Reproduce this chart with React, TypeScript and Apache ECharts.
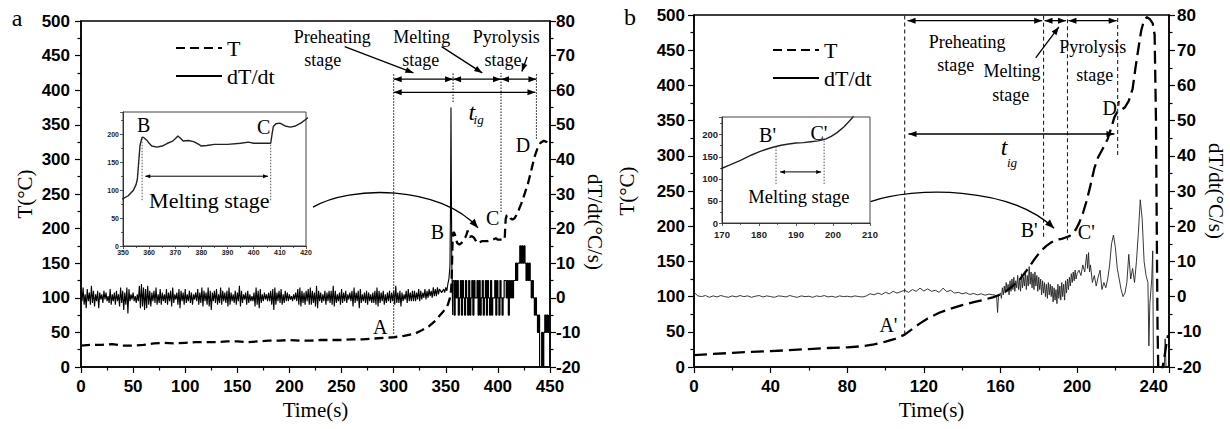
import React, { useEffect, useRef } from "react";
import * as echarts from "echarts";

const SANS = "'Liberation Sans', Arial, sans-serif";
const SERIF = "'Liberation Serif', 'Times New Roman', serif";

// ---------------- Panel a data ----------------
// Temperature T (°C) vs time (s)
const tempA: [number, number][] = [
  [0, 31], [10, 32], [20, 32], [30, 33], [40, 31], [50, 31], [60, 32], [70, 34], [80, 35], [90, 34],
  [100, 35], [110, 36], [120, 36], [130, 36], [140, 37], [150, 37], [160, 36], [170, 37], [180, 38], [190, 38],
  [200, 39], [210, 38], [220, 38], [230, 39], [240, 39], [250, 39], [260, 40], [270, 40], [280, 41], [290, 42],
  [300, 43], [310, 45], [320, 48], [327, 53], [334, 59], [340, 67], [344, 74], [347, 79], [350, 85], [352, 90],
  [354, 100], [355, 110], [355.5, 120], [356, 150], [356.5, 180], [357.3, 195], [358, 194], [359, 190], [360, 184],
  [361, 179], [363, 177], [365, 179], [367, 184], [369, 188], [370, 192], [371, 197], [372, 193], [373, 188],
  [375, 189], [377, 187], [379, 182], [380, 179], [382, 180], [385, 182], [390, 182], [395, 184], [398, 186],
  [400, 184], [403, 184], [406.5, 184], [407, 200], [407.5, 214], [408.5, 219], [410, 220], [412, 215], [414, 213],
  [416, 215], [418, 220], [420, 227], [423, 238], [426, 252], [429, 266], [432, 284], [435, 303], [438, 316],
  [441, 324], [444, 327], [447, 325], [449, 322],
];
// dT/dt (°C/s): noisy part, one value per second from 0 s
const rateAStart = 0;
const rateAStep = 1;
const rateANoise: number[] = [
  2, -1, 3, -2, 1, -3, 2.5, -1, 1.5, -2, 3.5, -1.5, 2, -2.5, 1, -1, 2, -3, 1.5, -0.5,
  1, -1.5, 2, -0.5, 1.5, -1, 0.5, -1.5, 2.5, -2, 1, -1, 1.5, -2, 2, -1, 1, -2.5, 3, -1.5,
  2, -3.5, 1.5, -2, 3, -4.5, 2.5, -1, 1, -0.5, 1.5, -1, 0.5, -1.5, 1, -1, 3.5, -3, 4, -2.5,
  3, -3.5, 2.5, -3, 3.5, -2, 2, -2.5, 1.5, -1, 2, -1.5, 3, -2, 1, -1.5, 2.5, -2, 1.5, -1,
  1, -1.5, 2.5, -2, 1.5, -1, 2, -2.5, 3, -1.5, 1, -0.5, 1.5, -2, 2.5, -3, 2, -1, 1.5, -2,
  2.5, -1.5, 1, -1, 2, -1.5, 1.5, -2, 1, -0.5, 1.5, -1, 2.5, -2, 1.5, -1.5, 3, -2.5, 2, -1,
  1.5, -2, 3, -2.5, 2, -3.5, 1.5, -1, 2, -1.5, 2.5, -2, 1, -1.5, 3, -2, 2, -1, 1.5, -1.5,
  2, -2.5, 3, -2, 1.5, -1, 1, -1.5, 2, -2, 1.5, -1, 3.5, -2.5, 2, -1.5, 1, -0.5, 1.5, -2,
  2, -1.5, 1, -1, 0.5, -1, 1.5, -2.5, 3, -2, 2, -3, 2.5, -1.5, 1, -1, 1.5, -0.5, 1, -1,
  1.5, -1, 2, -2, 2.5, -3.5, 3, -2, 1.5, -1, 2, -1.5, 2.5, -2, 1, -1.5, 2, -1, 1.5, -1,
  1, -0.5, 0.5, -1, 1, -0.5, 1.5, -1, 2.5, -2, 3, -2.5, 2, -1.5, 1.5, -2, 2, -1, 2.5, -2,
  3, -2, 2, -1.5, 1.5, -2.5, 3.5, -3, 2, -1, 1.5, -1.5, 1, -1, 2, -2, 1.5, -1, 2, -1.5,
  2, -2, 3.5, -2.5, 2, -1.5, 1, -1, 1.5, -2, 2.5, -1.5, 1.5, -1, 2, -1.5, 1, -0.5, 1.5, -1,
  2, -2.5, 3, -1.5, 1.5, -1, 2, -3, 2.5, -1.5, 1, -1, 1.5, -1.5, 2, -2, 1.5, -1, 1, -1.5,
  1.5, -1.5, 2, -2, 3, -2.5, 2, -1.5, 1.5, -1, 2, -2, 1, -1.5, 1.5, -1, 2, -1.5, 1.5, -1,
  2, -2, 3.5, -1.5, 1.5, -1.5, 2, -2.5, 1.5, -1, 1, -0.5, 2, -1.5, 2.5, -1, 1.5, -1, 2, -1,
  2, -1, 1.5, -0.5, 2.5, -1, 2, -0.5, 1.5, 0, 2.5, -0.5, 2, 0, 2.5, 0.5, 2, 0, 3, 0.5,
  2.5, 0.5, 3, 1, 2.5,
];
// dT/dt around the ignition spike
const rateASpike: [number, number][] = [
  [346, 1.5], [348, 2.5], [349, 1.5], [350, 3], [351, 2], [352, 4], [353, 5.5], [354, 9], [354.5, 25],
  [355, 55], [355.4, 30], [355.8, 10], [356.2, 3], [356.6, -5], [357, 5],
];
// dT/dt quantised steps, one value per second from 357 s
const rateAStepStart = 357;
const rateASteps: number[] = [
  5, -5, 5, 0, 5, -5, 0, 5, -5, 5,
  0, -5, 5, 0, -5, 5, -5, 0, 5, -5,
  5, 0, 0, 5, -5, 5, -5, 0, 5, -5,
  0, 5, -5, 5, 0, -5, 5, -5, 0, 0,
  5, -5, 5, 0, -5, 5, 0, -5, 0, 5,
  5, 0, 5, -5, 5, 0, 5, 0, 5, 5,
  10, 5, 10, 10, 15, 10, 15, 10, 15, 10,
  5, 10, 5, 10, 5, 0, 5, 0, -5, 0,
  -5, -10, -5, -25, -25, -10, -25, -10, -5, -10,
  -5, -10, -5,
];

// ---------------- Panel b data ----------------
const tempB: [number, number][] = [
  [0, 17], [10, 18.5], [20, 20], [30, 21.5], [40, 22.5], [50, 24], [60, 25.5], [70, 27], [80, 28], [88, 29.5],
  [94, 32], [100, 36], [105, 40], [110, 46], [114, 54], [118, 62], [122, 69], [128, 77], [134, 83], [140, 88],
  [146, 92], [152, 96], [156, 99], [160, 103], [163, 108], [166, 114], [168, 119], [170, 124], [172, 131],
  [175, 142], [178, 154], [180, 161], [182, 167], [184, 172], [186, 176], [188, 179], [190, 181], [192, 182],
  [194, 184], [196, 186], [198, 190], [199.5, 196], [201, 204], [203, 218], [205, 236], [207, 258], [209, 282],
  [211, 298], [214, 313], [216, 324], [218, 341], [219.5, 355], [221, 362], [223, 365], [225, 369], [227, 378],
  [229, 395], [230.5, 425], [232, 452], [233.5, 478], [235, 493], [236.5, 497], [238, 494], [239.5, 488],
  [240.5, 472], [241.2, 350], [241.6, 200], [242, 60], [242.4, -5], [244, -10], [245.5, 12], [246.5, 30], [247.5, 45],
];
const rateBStart = 0;
const rateBStep = 2;
const rateBBase: number[] = [
  1.2, 0.2, 0, 0.3, -0.2, 0.2, -0.1, 0.3, 0, -0.2,
  0.2, -0.1, 0.3, 0, 0.2, -0.2, 0.1, 0.3, -0.1, 0.2,
  0, -0.2, 0.2, 0.1, -0.1, 0.3, 0, -0.2, 0.2, 0,
  0.1, -0.2, 0.2, 0, 0.3, -0.1, 0.1, -0.2, 0.2, 0,
  0.1, -0.1, 0.2, 0, -0.1, 0.2, 0.8, 0.5, 1, 0.6,
  1.2, 0.8, 1.5, 1, 1.4, 1.8, 1.2, 2, 1.5, 2.4,
  1.6, 2.2, 1.5, 1.8, 1.2, 2.4, 1.4, 1.8, 1, 1.2,
  0.8, 1.1, 0.6, 0.9, 0.5, 0.8, 0.4, 0.7, 0.5,
];
const rateBTail: [number, number][] = [
  [157, 0.5], [158, 0], [158.5, -4.5], [159, 0.5], [160, 1], [160.5, -0.5], [161, 2.5], [161.5, 0.5], [162, 3],
  [162.5, 1], [163, 4], [163.5, 1.5], [164, 3.5], [164.5, 0.5], [165, 4.5], [165.5, 1.5], [166, 5], [166.5, 2],
  [167, 5.5], [167.5, 1.5], [168, 4.5], [168.5, 2.5], [169, 6], [169.5, 2], [170, 5], [170.5, 1.5], [171, 6.5],
  [171.5, 2.5], [172, 5.5], [172.5, 3], [173, 7], [173.5, 2], [174, 6], [174.5, 3], [175, 8.5], [175.5, 3.5],
  [176, 7], [176.5, 2.5], [177, 6.5], [177.5, 2], [178, 7], [178.5, 3], [179, 6], [179.5, 1.5], [180, 5.5],
  [180.5, 2], [181, 5], [181.5, 0.5], [182, 4.5], [182.5, 1], [183, 4], [183.5, 0], [184, 3.5], [184.5, -0.5],
  [185, 4], [185.5, 0.5], [186, 3.5], [186.5, 0], [187, 3], [187.5, -1.5], [188, 2.5], [188.5, -1], [189, 2],
  [189.5, -2], [190, 3.5], [190.5, -0.5], [191, 3], [191.5, -1], [192, 4], [192.5, 0], [193, 3.5], [193.5, -1],
  [194, 4.5], [194.5, 1], [195, 5], [195.5, 2], [196, 5.5], [196.5, 3], [197, 6.5], [197.5, 4], [198, 7],
  [198.5, 4.5], [199, 7.5], [199.5, 5], [200, 6.5], [201, 7.5], [202, 6], [203, 9], [204, 7], [205, 12],
  [205.5, 8], [206, 12.5], [206.5, 7], [207, 9], [208, 4], [209, 6], [210, 3], [211, 5.5], [212, 7.5], [213, 2],
  [214, 4], [215, 2.5], [216, 5], [217, 9], [218, 15], [219, 17.5], [220, 14], [221, 8], [222, 5], [223, 2],
  [224, 0], [225, 1], [226, 4], [227, 12], [228, 5], [229, 8], [230, 4], [231, 10], [232, 18], [233, 27.5],
  [234, 22], [235, 10], [236, 6], [237, 4], [237.5, -14], [238, -2], [239, 5], [239.5, 13], [240, -30],
  [245, -30], [246, -12], [247, -30],
];

// ---------------- Axis ranges ----------------
const axisA = { tMin: 0, tMax: 450, tStep: 50 };
const axisB = { tMin: 0, tMax: 248, tStep: 40 };
const axisT = { min: 0, max: 500, step: 50 };
const axisRate = { min: -20, max: 80, step: 10 };
const insetAX = { min: 350, max: 420, step: 10 };
const insetBX = { min: 170, max: 210, step: 10 };
const insetY = { min: 0, max: 240, step: 50 };

// ---------------- Annotations (data coordinates) ----------------
const stageLinesA: [number, number, number][] = [[300, 48, 425], [357, 383, 425], [403, 224, 425], [437, 330, 425]];
const stageArrowsA: [number, number, number][] = [[300, 357, 416], [357, 403, 416], [403, 437, 416], [300, 436, 397]];
const stageTextA: [string, number, number][] = [
  ["Preheating", 241, 477], ["stage", 232, 444], ["Melting", 327, 477], ["stage", 326, 444],
  ["Pyrolysis", 408, 477], ["stage", 405, 444],
];
const pointersA: [number, number, number, number][] = [[253, 463, 319, 425], [346, 463, 385, 425], [428, 448, 423, 427]];
const pointLabelsA: [string, number, number][] = [["A", 287, 58], ["B", 342, 195], ["C", 395, 215], ["D", 424, 321]];
const curveA: number[][] = [[222.6, 231], [258, 263], [344.5, 263], [381, 201]];
const tigA = { t: [375, 369], sub: [381.5, 357] };
const insetLinesA: [number, number, number][] = [[357.3, 82, 195], [406.5, 82, 186]];
const insetArrowA: [number, number, number] = [358.5, 405.5, 125];
const insetLabelsA: [string, number, number][] = [["B", 357.9, 216], ["C", 403.8, 213]];
const insetTextA: [string, number, number] = ["Melting stage", 383, 82];

const stageLinesB: [number, number, number][] = [[110, 46, 500], [182.5, 185, 500], [195, 180, 500], [221.2, 301, 500]];
const stageArrowsB: [number, number, number][] = [[111.5, 181.8, 492], [183, 194.2, 492], [195.5, 220.7, 492], [112, 219.5, 331]];
const stageTextB: [string, number, number][] = [
  ["Preheating", 142.6, 462], ["stage", 136.7, 429], ["Melting", 166, 421], ["stage", 165.4, 386],
  ["Pyrolysis", 208.2, 455], ["stage", 209.2, 415],
];
const pointersB: [number, number, number, number][] = [[178.4, 439, 190.5, 483]];
const pointLabelsB: [string, number, number][] = [["A'", 101.5, 60], ["B'", 175, 195], ["C'", 204.8, 192], ["D'", 218, 368]];
const curveB: number[][] = [[92.2, 235], [115, 256], [164.5, 258], [188, 197]];
const tigB = { t: [161.9, 313], sub: [166, 290] };
const insetLinesB: [number, number, number][] = [[184.6, 88, 174], [197.6, 88, 192]];
const insetArrowB: [number, number, number] = [185.7, 196.8, 115.7];
const insetLabelsB: [string, number, number][] = [["B'", 182.3, 200], ["C'", 196.2, 204]];
const insetTextB: [string, number, number] = ["Melting stage", 190.8, 58];

function seq(start: number, step: number, values: number[]): [number, number][] {
  return values.map((v, i) => [start + i * step, v]);
}

const tick = { color: "#000", width: 1.2 };

function mainX(gridIndex: number, ax: any, nameGap: number, showMax: boolean) {
  return {
    type: "value", gridIndex, min: ax.tMin, max: ax.tMax, interval: ax.tStep,
    axisLine: { onZero: false, lineStyle: { color: "#000", width: 1.5 } },
    axisTick: { inside: false, length: 6, lineStyle: tick },
    minorTick: { show: true, splitNumber: 2, length: 3.5, lineStyle: tick },
    splitLine: { show: false },
    axisLabel: { fontFamily: SANS, fontWeight: "bold", fontSize: 17, color: "#000", margin: 11, showMaxLabel: showMax, showMinLabel: true },
    name: "Time(s)", nameLocation: "middle", nameGap,
    nameTextStyle: { fontFamily: SERIF, fontSize: 21, color: "#000" },
  };
}
function mainYLeft(gridIndex: number, nameGap: number, margin: number) {
  return {
    type: "value", gridIndex, position: "left", min: axisT.min, max: axisT.max, interval: axisT.step,
    axisLine: { onZero: false, lineStyle: { color: "#000", width: 1.5 } },
    axisTick: { inside: false, length: 6, lineStyle: tick },
    minorTick: { show: true, splitNumber: 2, length: 3.5, lineStyle: tick },
    splitLine: { show: false },
    axisLabel: { fontFamily: SANS, fontWeight: "bold", fontSize: 17, color: "#000", margin },
    name: "T(°C)", nameLocation: "middle", nameGap,
    nameTextStyle: { fontFamily: SERIF, fontSize: 21, color: "#000" },
  };
}
function mainYRight(gridIndex: number, nameGap: number, margin: number, padding: number[]) {
  return {
    type: "value", gridIndex, position: "right", min: axisRate.min, max: axisRate.max, interval: axisRate.step,
    axisLine: { onZero: false, lineStyle: { color: "#000", width: 1.5 } },
    axisTick: { inside: false, length: 6, lineStyle: tick },
    minorTick: { show: true, splitNumber: 2, length: 3.5, lineStyle: tick },
    splitLine: { show: false },
    axisLabel: { fontFamily: SANS, fontWeight: "bold", fontSize: 17, color: "#000", margin },
    name: "dT/dt(°C/s)", nameLocation: "middle", nameGap, nameRotate: -90,
    nameTextStyle: { fontFamily: SERIF, fontSize: 21, color: "#000", padding },
  };
}
function insetAxisX(gridIndex: number, ax: any, fs: number, margin: number) {
  return {
    type: "value", gridIndex, min: ax.min, max: ax.max, interval: ax.step,
    axisLine: { onZero: false, lineStyle: { color: "#333", width: 1 } },
    axisTick: { length: 3, lineStyle: { color: "#333", width: 0.8 } },
    minorTick: { show: true, splitNumber: 2, length: 2, lineStyle: { color: "#333", width: 0.8 } },
    splitLine: { show: false },
    axisLabel: { fontFamily: SANS, fontWeight: "bold", fontSize: fs, color: "#222", margin, showMaxLabel: true },
  };
}
function insetAxisY(gridIndex: number, fs: number) {
  return {
    type: "value", gridIndex, min: insetY.min, max: insetY.max, interval: insetY.step,
    axisLine: { onZero: false, lineStyle: { color: "#333", width: 1 } },
    axisTick: { length: 3, lineStyle: { color: "#333", width: 0.8 } },
    minorTick: { show: true, splitNumber: 2, length: 2, lineStyle: { color: "#333", width: 0.8 } },
    splitLine: { show: false },
    axisLabel: { fontFamily: SANS, fontWeight: "bold", fontSize: fs, color: "#222", margin: 4, showMaxLabel: false },
  };
}

function buildOption() {
  const legendText = { fontFamily: SERIF, fontSize: 22, color: "#000", lineHeight: 22 };
  const legendBase = {
    orient: "vertical", data: ["T", "dT/dt"], itemWidth: 46, itemHeight: 14, itemGap: 6,
    selectedMode: false, textStyle: legendText, itemStyle: { opacity: 0 },
  };
  return {
    animation: false,
    backgroundColor: "#fff",
    grid: [
      { left: 81, top: 21, width: 469, height: 346, show: true, borderColor: "#000", borderWidth: 1.5 },
      { left: 123, top: 112, width: 183, height: 134, show: true, borderColor: "#444", borderWidth: 1, backgroundColor: "#fff" },
      { left: 694, top: 15, width: 475, height: 352, show: true, borderColor: "#000", borderWidth: 1.5 },
      { left: 722, top: 117, width: 148, height: 106, show: true, borderColor: "#444", borderWidth: 1, backgroundColor: "#fff" },
    ],
    legend: [
      { ...legendBase, left: 170, top: 32 },
      { ...legendBase, left: 767, top: 34 },
    ],
    xAxis: [
      mainX(0, axisA, 29, true),
      insetAxisX(1, insetAX, 7, 3),
      mainX(2, axisB, 29, false),
      insetAxisX(3, insetBX, 9.5, 6),
    ],
    yAxis: [
      mainYLeft(0, 46, 11),
      mainYRight(0, 34, 6, [0, 0, 0, 56]),
      insetAxisY(1, 7),
      mainYLeft(2, 57, 9),
      mainYRight(2, 34, 8, [0, 0, 0, 0]),
      insetAxisY(3, 9.5),
    ],
    series: [
      {
        name: "T", type: "line", xAxisIndex: 0, yAxisIndex: 0, data: tempA, symbol: "none", showSymbol: false, z: 4,
        itemStyle: { color: "#000" }, lineStyle: { color: "#000", width: 2.3, type: [9, 5] },
      },
      {
        name: "dT/dt", type: "line", xAxisIndex: 0, yAxisIndex: 1, data: seq(rateAStart, rateAStep, rateANoise).concat(rateASpike),
        symbol: "none", showSymbol: false, itemStyle: { color: "#000" }, lineStyle: { color: "#000", width: 1.1 },
      },
      {
        name: "dT/dt", type: "line", step: "end", xAxisIndex: 0, yAxisIndex: 1, data: seq(rateAStepStart, 1, rateASteps),
        symbol: "none", showSymbol: false, itemStyle: { color: "#000" }, lineStyle: { color: "#000", width: 1.2 },
      },
      {
        name: "T (inset a)", type: "line", xAxisIndex: 1, yAxisIndex: 2, data: tempA, symbol: "none", showSymbol: false,
        itemStyle: { color: "#222" }, lineStyle: { color: "#222", width: 1.4 },
      },
      {
        name: "T", type: "line", xAxisIndex: 2, yAxisIndex: 3, data: tempB, symbol: "none", showSymbol: false, z: 4,
        itemStyle: { color: "#000" }, lineStyle: { color: "#000", width: 2.3, type: [13, 6] },
      },
      {
        name: "dT/dt", type: "line", xAxisIndex: 2, yAxisIndex: 4, data: seq(rateBStart, rateBStep, rateBBase).concat(rateBTail),
        symbol: "none", showSymbol: false, itemStyle: { color: "#222" }, lineStyle: { color: "#222", width: 0.9 },
      },
      {
        name: "T (inset b)", type: "line", xAxisIndex: 3, yAxisIndex: 5, data: tempB, symbol: "none", showSymbol: false,
        itemStyle: { color: "#222" }, lineStyle: { color: "#222", width: 1.4 },
      },
    ],
  };
}

function buildGraphics(chart: any) {
  const els: any[] = [];
  const Z = 60;
  const toPx = (si: number) => (p: number[]) => chart.convertToPixel({ seriesIndex: si }, p) as number[];
  const line = (a: number[], b: number[], style: any = {}) =>
    els.push({ type: "line", silent: true, z: Z, shape: { x1: a[0], y1: a[1], x2: b[0], y2: b[1] }, style: { stroke: "#000", lineWidth: 1.2, ...style } });
  const head = (tip: number[], from: number[], len = 8, w = 3) => {
    const dx = tip[0] - from[0], dy = tip[1] - from[1];
    const d = Math.hypot(dx, dy) || 1;
    const ux = dx / d, uy = dy / d;
    const bx = tip[0] - ux * len, by = tip[1] - uy * len;
    els.push({
      type: "polygon", silent: true, z: Z,
      shape: { points: [[tip[0], tip[1]], [bx - uy * w, by + ux * w], [bx + uy * w, by - ux * w]] },
      style: { fill: "#000" },
    });
  };
  const text = (p: number[], s: string, size: number, extra: any = {}) =>
    els.push({
      type: "text", silent: true, z: Z, x: p[0], y: p[1],
      style: { text: s, fontFamily: SERIF, fontSize: size, fill: "#000", align: "center", verticalAlign: "middle", textAlign: "center", textVerticalAlign: "middle", ...extra },
    });
  const curve = (P: (p: number[]) => number[], pts: number[][]) => {
    const [s, c1, c2, e] = pts.map(P);
    els.push({
      type: "bezierCurve", silent: true, z: Z,
      shape: { x1: s[0], y1: s[1], cpx1: c1[0], cpy1: c1[1], cpx2: c2[0], cpy2: c2[1], x2: e[0], y2: e[1] },
      style: { stroke: "#000", lineWidth: 1.3, fill: null },
    });
    head(e, c2, 9, 3.5);
  };

  const panel = (P: (p: number[]) => number[], vl: any[], dash: number[], arrows: any[], texts: any[], pointers: any[], labels: any[], cv: number[][], tig: any) => {
    vl.forEach(([t, lo, hi]) => line(P([t, lo]), P([t, hi]), { lineDash: dash, stroke: "#222", lineWidth: 1.1 }));
    arrows.forEach(([t0, t1, T]) => {
      const a = P([t0, T]), b = P([t1, T]);
      line(a, b, { lineWidth: 1.3 });
      head(a, b); head(b, a);
    });
    texts.forEach(([s, t, T]) => text(P([t, T]), s, 18));
    pointers.forEach(([t0, T0, t1, T1]) => {
      const a = P([t0, T0]), b = P([t1, T1]);
      line(a, b, { lineWidth: 1.3 });
      head(b, a);
    });
    labels.forEach(([s, t, T]) => text(P([t, T]), s, 20));
    curve(P, cv);
    text(P(tig.t), "t", 24, { fontStyle: "italic" });
    text(P(tig.sub), "ig", 13, { fontStyle: "italic" });
  };
  const inset = (P: (p: number[]) => number[], vl: any[], arrow: number[], labels: any[], txt: any[], fs: number) => {
    vl.forEach(([t, lo, hi]) => line(P([t, lo]), P([t, hi]), { lineDash: [1.5, 1.5], stroke: "#555", lineWidth: 1 }));
    const a = P([arrow[0], arrow[2]]), b = P([arrow[1], arrow[2]]);
    line(a, b, { lineWidth: 1 });
    head(a, b, 5, 2); head(b, a, 5, 2);
    labels.forEach(([s, t, T]) => text(P([t, T]), s, 20));
    text(P([txt[1], txt[2]]), txt[0], fs);
  };

  panel(toPx(0), stageLinesA, [1.5, 1.5], stageArrowsA, stageTextA, pointersA, pointLabelsA, curveA, tigA);
  inset(toPx(3), insetLinesA, insetArrowA, insetLabelsA, insetTextA, 22);
  panel(toPx(4), stageLinesB, [4, 3], stageArrowsB, stageTextB, pointersB, pointLabelsB, curveB, tigB);
  inset(toPx(6), insetLinesB, insetArrowB, insetLabelsB, insetTextB, 18.5);

  // panel letters
  text([17, 18], "a", 24);
  text([630, 17], "b", 24);
  return els;
}

export default function App() {
  const ref = useRef<HTMLDivElement>(null);
  useEffect(() => {
    const el = ref.current;
    if (!el) return;
    const chart = echarts.init(el, null, { renderer: "svg" });
    chart.setOption(buildOption() as any);
    chart.setOption({ graphic: { elements: buildGraphics(chart) } } as any);
    return () => chart.dispose();
  }, []);
  return <div ref={ref} style={{ position: "fixed", left: 0, top: 0, width: 1230, height: 429, background: "#fff" }} />;
}
